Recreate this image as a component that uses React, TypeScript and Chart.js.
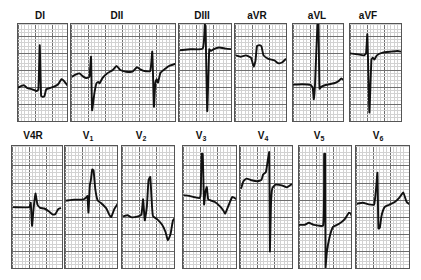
import React, { useEffect, useRef } from "react";
import { Chart, registerables } from "chart.js";

Chart.register(...registerables);

// Time in small boxes (0.04 s), amplitude in small boxes (0.1 mV) from panel bottom
const DI_t = [0, 1.0, 1.8, 2.7, 4.2, 5.5, 6.0, 6.4, 6.8, 7.3, 7.8, 8.3, 9.4, 10.6, 11.8, 12.8, 13.5, 14.8];
const DI_v = [9.8, 10.3, 10.5, 9.7, 9.3, 8.8, 9.3, 22.3, 7.4, 7.1, 7.4, 9.3, 9.7, 10.1, 10.8, 12.3, 11.8, 10.1];

const DII_t = [0.2, 1.5, 2.5, 3.4, 4.4, 5.4, 5.9, 6.2, 6.9, 7.5, 8.0, 8.4, 9.3, 10.6, 12.3, 13.4, 14.5, 16.2, 18.1, 19.4, 20.4, 21.6, 23.3, 23.9, 24.4, 24.8, 25.2, 25.6, 26.3, 27.5, 28.9, 31.0];
const DII_v = [13.0, 13.7, 14.0, 13.2, 12.6, 13.0, 18.9, 3.2, 8.3, 11.1, 11.5, 11.1, 12.7, 14.0, 15.0, 16.2, 15.0, 14.5, 14.5, 15.8, 15.2, 14.7, 14.7, 20.4, 4.2, 11.3, 12.3, 11.3, 14.2, 15.2, 16.2, 16.9];

const DIII_t = [0.2, 3.4, 7.0, 7.6, 7.8, 8.3, 8.9, 9.4, 10.1, 11.8, 13.7, 15.7];
const DIII_v = [20.8, 21.1, 21.3, 28.4, 27.9, 2.9, 21.1, 20.6, 21.1, 21.6, 21.3, 21.1];

const aVR_t = [0.2, 1.6, 3.2, 4.7, 5.5, 6.0, 6.5, 7.3, 7.8, 8.4, 9.8, 11.6, 12.7, 13.8, 15.0, 15.7];
const aVR_v = [19.3, 18.9, 19.3, 18.6, 16.0, 17.6, 22.1, 22.3, 21.9, 19.3, 18.3, 17.8, 17.0, 17.2, 18.3, 18.9];

const aVL_t = [0, 2.7, 5.2, 5.8, 6.1, 6.5, 7.2, 7.5, 7.8, 8.4, 9.6, 12.1, 13.5, 14.2, 15.2];
const aVL_v = [10.7, 10.8, 10.6, 9.8, 6.4, 11.3, 28.7, 28.7, 9.5, 10.1, 10.6, 11.1, 11.8, 12.5, 11.8];

const aVF_t = [0, 2.3, 4.0, 4.7, 5.1, 5.7, 6.3, 6.7, 7.2, 7.9, 9.6, 12.1, 14.0, 15.5];
const aVF_v = [19.9, 19.6, 19.3, 19.8, 25.5, 2.5, 18.1, 18.6, 18.1, 19.3, 20.1, 20.4, 20.6, 20.3];

const V4R_t = [0.2, 5.1, 5.5, 5.9, 6.3, 6.9, 7.5, 8.3, 9.5, 10.8, 12.0, 12.7, 13.6, 14.4];
const V4R_v = [17.9, 17.9, 19.2, 12.4, 17.0, 21.9, 18.6, 17.7, 17.5, 16.7, 15.7, 15.8, 17.3, 17.7];

const V1_t = [0.2, 2.7, 5.5, 6.3, 6.6, 6.9, 7.3, 7.6, 8.0, 8.4, 8.9, 9.6, 10.8, 12.1, 13.0, 13.6, 14.5, 15.7];
const V1_v = [19.8, 20.1, 20.2, 20.8, 21.2, 16.3, 24.3, 25.8, 29.0, 28.7, 23.3, 19.9, 18.9, 17.6, 15.7, 15.0, 17.3, 19.2];

const V2_t = [0.3, 1.6, 2.9, 4.7, 5.7, 6.2, 6.7, 7.3, 7.8, 8.3, 8.7, 9.1, 10.4, 11.8, 12.8, 13.5, 14.3, 15.0, 16.0];
const V2_v = [15.2, 15.5, 14.9, 15.2, 15.7, 20.2, 14.0, 17.9, 25.8, 26.8, 20.4, 15.3, 14.3, 12.7, 10.6, 8.1, 10.1, 14.0, 15.3];

const V3_t = [0.2, 1.8, 3.5, 4.9, 5.2, 5.5, 5.8, 6.2, 6.6, 7.0, 7.4, 8.1, 9.4, 10.8, 11.8, 12.4, 13.2, 14.5, 15.8];
const V3_v = [21.4, 21.2, 20.8, 20.6, 21.9, 33.6, 33.6, 18.7, 22.4, 23.8, 20.2, 19.9, 19.4, 18.2, 17.0, 16.0, 17.9, 20.9, 20.2];

const V4_t = [0.3, 1.0, 1.9, 3.4, 5.1, 6.3, 6.8, 7.6, 8.1, 8.6, 8.8, 9.1, 9.5, 10.5, 12.3, 13.8, 15.0, 15.9];
const V4_v = [23.3, 25.5, 26.3, 25.8, 25.5, 25.9, 27.5, 28.2, 31.2, 34.1, 4.9, 18.4, 23.5, 24.5, 24.3, 23.7, 24.5, 24.6];

const V5_t = [0, 1.7, 2.9, 4.3, 7.1, 7.4, 7.7, 7.8, 8.2, 9.0, 10.0, 11.8, 13.4, 14.7, 15.2, 15.9];
const V5_v = [12.7, 12.7, 13.3, 12.7, 12.5, 33.6, 33.6, 0, 4.7, 9.1, 12.1, 13.0, 14.3, 16.3, 16.0, 14.3];

const V6_t = [0.2, 2.0, 3.7, 5.3, 5.9, 6.3, 6.6, 7.0, 7.5, 8.4, 9.8, 11.4, 12.7, 13.9, 14.9, 16.0];
const V6_v = [18.9, 19.2, 18.7, 18.6, 23.3, 28.0, 11.6, 11.8, 15.3, 17.9, 18.6, 19.4, 20.6, 22.2, 19.4, 18.6];

const topLeads = ["DI", "DII", "DIII", "aVR", "aVL", "aVF"];
const bottomLeads = ["V4R", "V1", "V2", "V3", "V4", "V5", "V6"];

const series: Record<string, [number[], number[]]> = {
  DI: [DI_t, DI_v], DII: [DII_t, DII_v], DIII: [DIII_t, DIII_v],
  aVR: [aVR_t, aVR_v], aVL: [aVL_t, aVL_v], aVF: [aVF_t, aVF_v],
  V4R: [V4R_t, V4R_v], V1: [V1_t, V1_v], V2: [V2_t, V2_v], V3: [V3_t, V3_v],
  V4: [V4_t, V4_v], V5: [V5_t, V5_v], V6: [V6_t, V6_v],
};

// layout (pixels)
const PX_PER_BOX = 3.4;
const topRow = { y: 23, h: 99, labelY: 16 };
const bottomRow = { y: 145, h: 124, labelY: 136 };
const topX: [number, number, number][] = [[17, 51, 40], [70, 106, 117], [178, 54, 202], [234, 53, 257], [292, 52, 317], [349, 53, 368]];
const bottomX: [number, number, number][] = [[11, 52, 33], [64, 54, 88], [121, 54, 141], [182, 55, 201], [239, 54, 263], [298, 54, 319], [355, 55, 378]];

function gridColor(ctx: any) {
  const v = ctx.tick ? ctx.tick.value : 0;
  return Math.round(v) % 5 === 0 ? "#6e6e6e" : "#d2d2d2";
}

function Panel({ lead, x, y, w, h }: { lead: string; x: number; y: number; w: number; h: number }) {
  const ref = useRef<HTMLCanvasElement>(null);
  useEffect(() => {
    const [t, v] = series[lead];
    const cw = w - 2;
    const ch = h - 2;
    const chart = new Chart(ref.current!, {
      type: "line",
      data: {
        datasets: [
          {
            data: t.map((tt, i) => ({ x: tt, y: v[i] })),
            borderColor: "#111",
            borderWidth: 1.9,
            pointRadius: 0,
            tension: 0.15,
            fill: false,
          },
        ],
      },
      options: {
        responsive: false,
        animation: false,
        events: [],
        layout: { padding: 0 },
        plugins: { legend: { display: false }, tooltip: { enabled: false } },
        scales: {
          x: {
            type: "linear",
            min: 0,
            max: cw / PX_PER_BOX,
            ticks: { display: false, stepSize: 1 },
            grid: { drawTicks: false, color: gridColor, lineWidth: 1 },
            border: { display: false },
          },
          y: {
            type: "linear",
            min: 0,
            max: ch / PX_PER_BOX,
            ticks: { display: false, stepSize: 1 },
            grid: { drawTicks: false, color: gridColor, lineWidth: 1 },
            border: { display: false },
          },
        },
      },
    });
    return () => chart.destroy();
  }, [lead, w, h]);
  return (
    <div
      style={{
        position: "absolute",
        left: x,
        top: y,
        width: w,
        height: h,
        boxSizing: "border-box",
        border: "1px solid #555",
        background: "#fff",
      }}
    >
      <canvas ref={ref} width={w - 2} height={h - 2} style={{ display: "block", width: w - 2, height: h - 2 }} />
    </div>
  );
}

function Label({ text, cx, cy }: { text: string; cx: number; cy: number }) {
  const m = /^V(\d)$/.exec(text);
  return (
    <div
      style={{
        position: "absolute",
        left: cx - 20,
        top: cy - 7,
        width: 40,
        textAlign: "center",
        fontFamily: "'Liberation Sans', Arial, sans-serif",
        fontWeight: 700,
        fontSize: 10,
        lineHeight: "14px",
        color: "#111",
      }}
    >
      {m ? (
        <>
          V<span style={{ fontSize: 7, verticalAlign: -2 }}>{m[1]}</span>
        </>
      ) : (
        text
      )}
    </div>
  );
}

export default function App() {
  return (
    <div style={{ position: "absolute", left: 0, top: 0, width: 421, height: 280, background: "#fff", overflow: "hidden" }}>
      {topLeads.map((lead, i) => (
        <React.Fragment key={lead}>
          <Label text={lead} cx={topX[i][2]} cy={topRow.labelY} />
          <Panel lead={lead} x={topX[i][0]} y={topRow.y} w={topX[i][1]} h={topRow.h} />
        </React.Fragment>
      ))}
      {bottomLeads.map((lead, i) => (
        <React.Fragment key={lead}>
          <Label text={lead} cx={bottomX[i][2]} cy={bottomRow.labelY} />
          <Panel lead={lead} x={bottomX[i][0]} y={bottomRow.y} w={bottomX[i][1]} h={bottomRow.h} />
        </React.Fragment>
      ))}
    </div>
  );
}
